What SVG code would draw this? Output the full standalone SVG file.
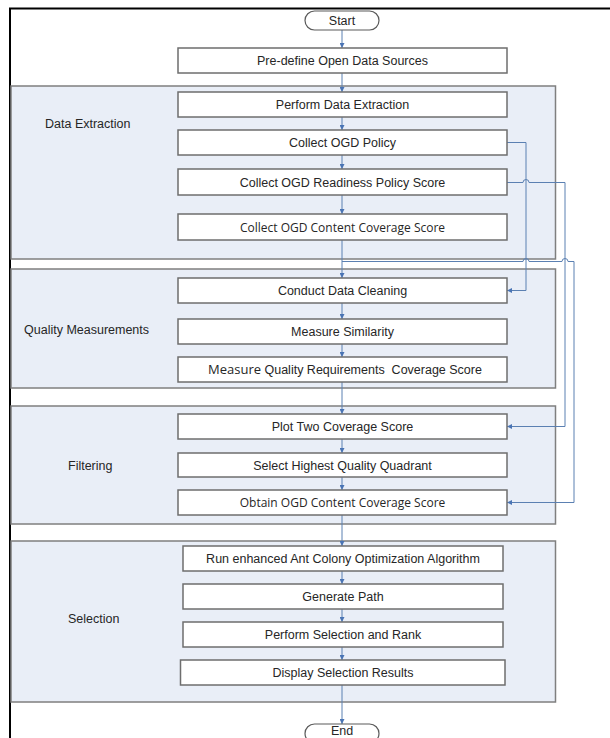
<svg xmlns="http://www.w3.org/2000/svg" width="610" height="738" viewBox="0 0 610 738">
<style>
.bg{fill:#ffffff}
.grp{fill:#e9eef7;stroke:#7f7f7f;stroke-width:1.5}
.box{fill:#ffffff;stroke:#6e6e6e;stroke-width:1.5}
.pill{fill:#ffffff;stroke:#5a5a5a;stroke-width:1.2}
.t{font-family:"Liberation Sans",Arial,sans-serif;font-size:12.5px;fill:#262626;text-anchor:middle}
.c{font-family:"Open Sans","Noto Sans",sans-serif;font-size:12px;fill:#262626;text-anchor:middle}
.lbl{font-family:"Liberation Sans",Arial,sans-serif;font-size:12.5px;fill:#262626}
.ln{fill:none;stroke:#5b80b2;stroke-width:1}
</style>
<defs>
<marker id="ah" viewBox="0 0 6 6" refX="6" refY="3" markerWidth="5" markerHeight="5" orient="auto" markerUnits="userSpaceOnUse">
<path d="M0,0 L6,3 L0,6 z" fill="#4a74b4"/>
</marker>
</defs>
<rect class="bg" x="0" y="0" width="610" height="738"/>
<g id="frame">
<line x1="9" y1="8.5" x2="610" y2="8.5" stroke="#000" stroke-width="2"/>
<line x1="10" y1="8" x2="10" y2="738" stroke="#000" stroke-width="2"/>
</g>
<g id="group-data-extraction">
<rect class="grp" x="11" y="86" width="544.5" height="173"/>
<text class="lbl" x="45" y="127.5">Data Extraction</text>
</g>
<g id="group-quality">
<rect class="grp" x="11" y="269" width="544.5" height="119"/>
<text class="lbl" x="24" y="333.5">Quality Measurements</text>
</g>
<g id="group-filtering">
<rect class="grp" x="11" y="406" width="544.5" height="118"/>
<text class="lbl" x="68" y="469.5">Filtering</text>
</g>
<g id="group-selection">
<rect class="grp" x="11" y="541" width="544.5" height="161"/>
<text class="lbl" x="68" y="622.5">Selection</text>
</g>
<g id="connectors">
<line class="ln" x1="342" y1="30" x2="342" y2="48" marker-end="url(#ah)"/>
<line class="ln" x1="342" y1="73" x2="342" y2="92" marker-end="url(#ah)"/>
<line class="ln" x1="342" y1="117" x2="342" y2="130" marker-end="url(#ah)"/>
<line class="ln" x1="342" y1="155" x2="342" y2="169" marker-end="url(#ah)"/>
<line class="ln" x1="342" y1="195" x2="342" y2="214" marker-end="url(#ah)"/>
<line class="ln" x1="342" y1="240" x2="342" y2="278" marker-end="url(#ah)"/>
<line class="ln" x1="342" y1="303" x2="342" y2="319" marker-end="url(#ah)"/>
<line class="ln" x1="342" y1="344" x2="342" y2="357" marker-end="url(#ah)"/>
<line class="ln" x1="342" y1="382" x2="342" y2="414" marker-end="url(#ah)"/>
<line class="ln" x1="342" y1="439" x2="342" y2="453" marker-end="url(#ah)"/>
<line class="ln" x1="342" y1="477" x2="342" y2="490" marker-end="url(#ah)"/>
<line class="ln" x1="342" y1="515" x2="342" y2="546" marker-end="url(#ah)"/>
<line class="ln" x1="342" y1="571" x2="342" y2="584" marker-end="url(#ah)"/>
<line class="ln" x1="342" y1="609" x2="342" y2="622" marker-end="url(#ah)"/>
<line class="ln" x1="342" y1="647" x2="342" y2="660" marker-end="url(#ah)"/>
<line class="ln" x1="342" y1="685" x2="342" y2="724" marker-end="url(#ah)"/>
<path class="ln" d="M507,142.5 H526 V290.5 H507" marker-end="url(#ah)"/>
<path class="ln" d="M507,182.5 H523 A3,3 0 0 1 529,182.5 H565 V426.5 H507" marker-end="url(#ah)"/>
<path class="ln" d="M342,261.5 H523 A3,3 0 0 1 529,261.5 H562 A3,3 0 0 1 568,261.5 H574 V502.5 H507" marker-end="url(#ah)"/>
</g>
<g id="start">
<rect class="pill" x="305" y="11" width="74" height="19" rx="9.5"/>
<text class="t" x="342" y="25">Start</text>
</g>
<g id="predefine">
<rect class="box" x="178" y="48" width="329" height="25"/>
<text class="t" x="342.5" y="65">Pre-define Open Data Sources</text>
</g>
<g id="perform-extraction">
<rect class="box" x="178" y="92" width="329" height="25"/>
<text class="t" x="342.5" y="109">Perform Data Extraction</text>
</g>
<g id="collect-policy">
<rect class="box" x="178" y="130" width="329" height="25"/>
<text class="t" x="342.5" y="147">Collect OGD Policy</text>
</g>
<g id="collect-readiness">
<rect class="box" x="178" y="169" width="329" height="26"/>
<text class="t" x="342.5" y="186.5">Collect OGD Readiness Policy Score</text>
</g>
<g id="collect-content">
<rect class="box" x="178" y="214" width="329" height="26"/>
<text class="c" x="342.5" y="231.5">Collect OGD Content Coverage Score</text>
</g>
<g id="data-cleaning">
<rect class="box" x="178" y="278" width="329" height="25"/>
<text class="t" x="342.5" y="295">Conduct Data Cleaning</text>
</g>
<g id="similarity">
<rect class="box" x="178" y="319" width="329" height="25"/>
<text class="t" x="342.5" y="336">Measure Similarity</text>
</g>
<g id="quality-coverage">
<rect class="box" x="178" y="357" width="329" height="25"/>
<text x="208" y="373.5" style="font-family:'Liberation Sans',Arial,sans-serif;font-size:12.5px;fill:#262626" xml:space="preserve"><tspan style="font-family:'Open Sans','Noto Sans',sans-serif;font-size:13px">Measure</tspan> Quality Requirements  Coverage Score</text>
</g>
<g id="plot-two">
<rect class="box" x="178" y="414" width="329" height="25"/>
<text class="t" x="342.5" y="431">Plot Two Coverage Score</text>
</g>
<g id="select-quadrant">
<rect class="box" x="178" y="453" width="329" height="24"/>
<text class="t" x="342.5" y="469.5">Select Highest Quality Quadrant</text>
</g>
<g id="obtain-content">
<rect class="box" x="178" y="490" width="329" height="25"/>
<text class="c" x="342.5" y="507">Obtain OGD Content Coverage Score</text>
</g>
<g id="run-aco">
<rect class="box" x="183" y="546" width="320" height="25"/>
<text class="t" x="343" y="563">Run enhanced Ant Colony Optimization Algorithm</text>
</g>
<g id="generate-path">
<rect class="box" x="183" y="584" width="320" height="25"/>
<text class="t" x="343" y="601">Generate Path</text>
</g>
<g id="perform-selection">
<rect class="box" x="183" y="622" width="320" height="25"/>
<text class="t" x="343" y="639">Perform Selection and Rank</text>
</g>
<g id="display-results">
<rect class="box" x="180.5" y="660" width="324.5" height="25"/>
<text class="t" x="343" y="677">Display Selection Results</text>
</g>
<g id="end">
<rect class="pill" x="305" y="724" width="74" height="19" rx="9.5"/>
<text class="t" x="342" y="735">End</text>
</g>
</svg>
